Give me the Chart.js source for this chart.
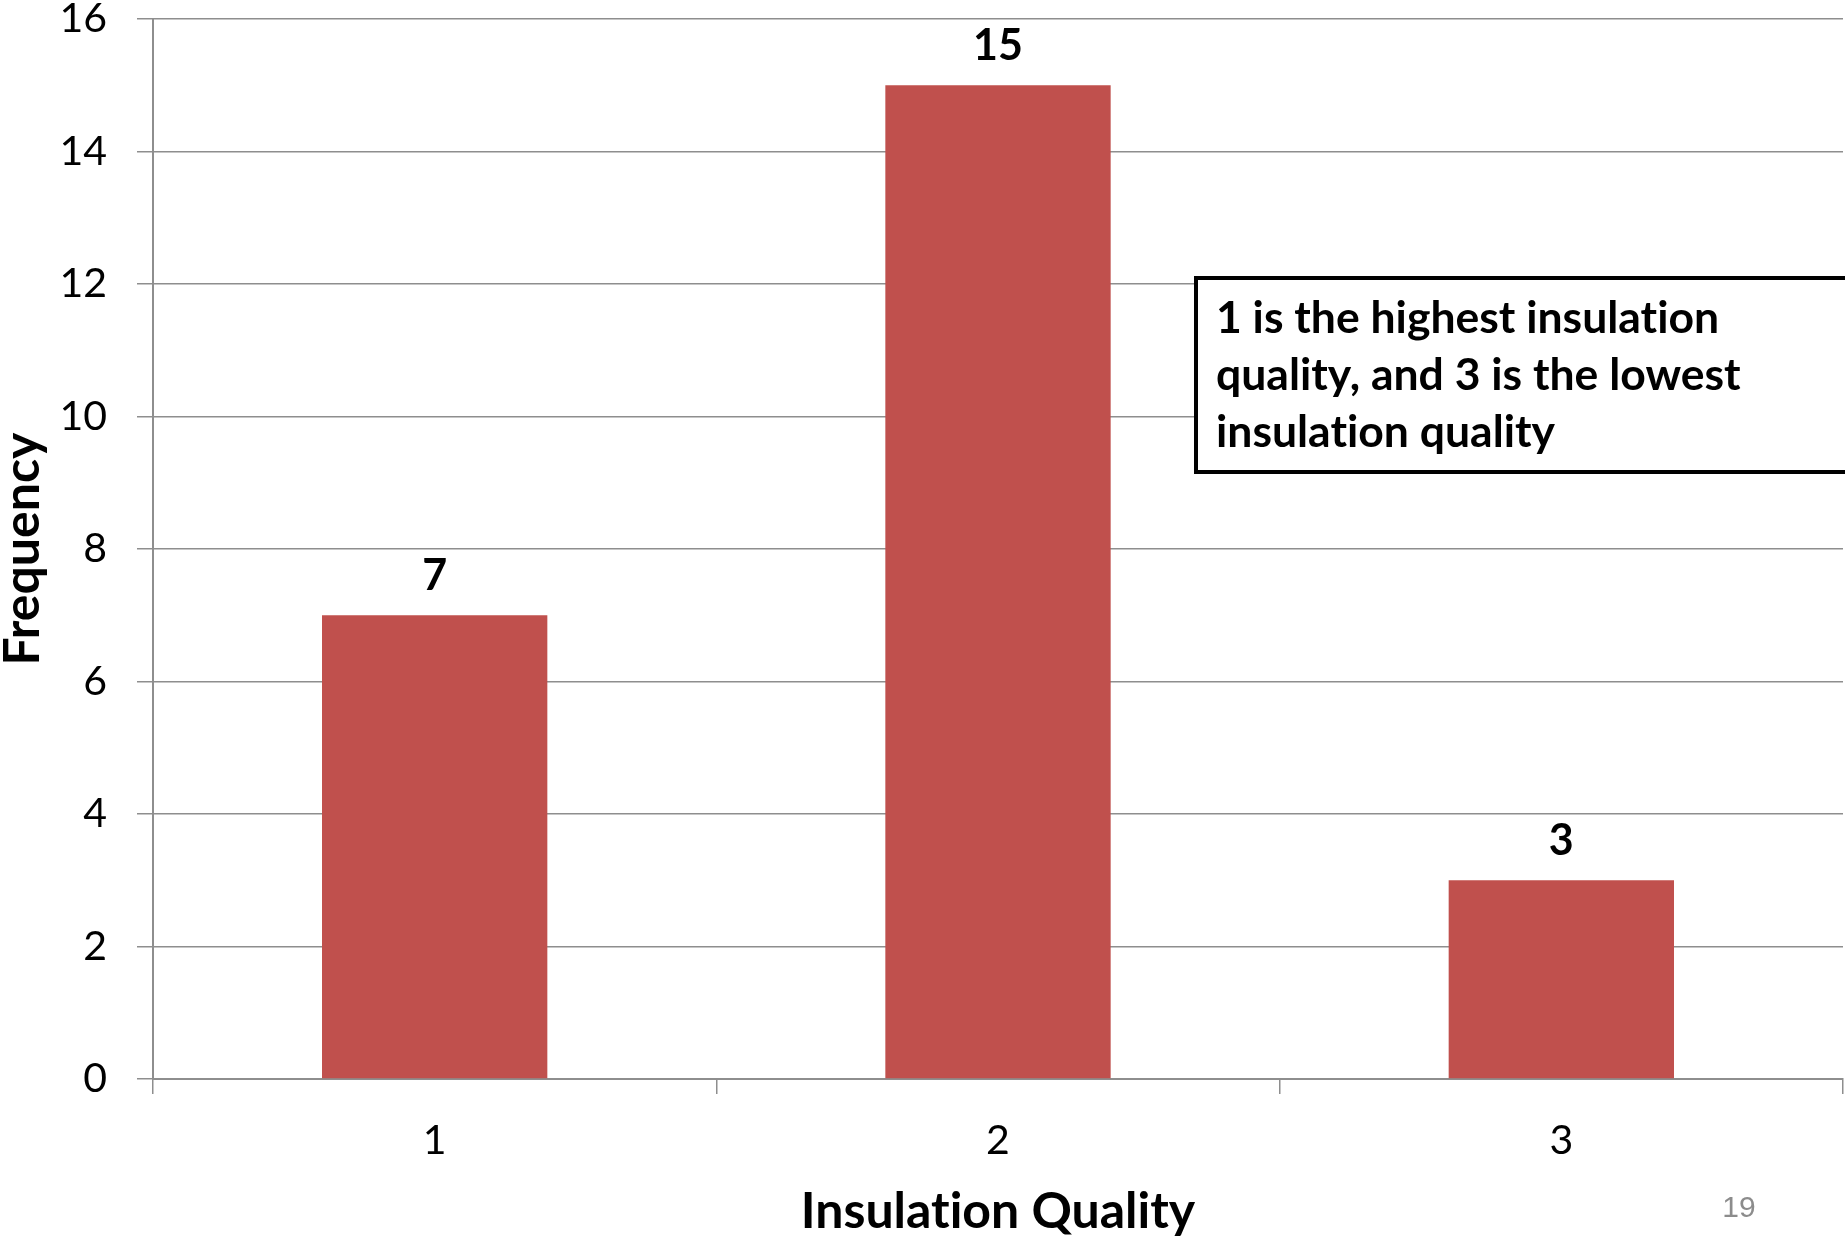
<!DOCTYPE html>
<html>
<head>
<meta charset="utf-8">
<script src="https://cdn.jsdelivr.net/npm/chart.js@4.4.1/dist/chart.umd.min.js"></script>
<style>
  html, body { margin: 0; padding: 0; background: #ffffff; }
  #wrap { position: relative; width: 1845px; height: 1239px; }
</style>
</head>
<body>
<div id="wrap"><canvas id="chart"></canvas></div>
<script>
// chart data
const categories = ['1', '2', '3'];
const frequencies = [7, 15, 3];
const yTicks = [0, 2, 4, 6, 8, 10, 12, 14, 16];
const noteLines = [
  '1 is the highest insulation',
  'quality, and 3 is the lowest',
  'insulation quality',
];
const pageNumber = '19';

const BAR_RED = '#C0504D';
const GRID_GRAY = '#8e8e8e';
const FONT = 'Lato, "Open Sans", sans-serif';

// no "ti" ligatures from Lato
const noLigatures = {
  id: 'noLigatures',
  beforeDraw(chart) {
    chart.ctx.textRendering = 'optimizeSpeed';
  },
};

// value labels above each bar (bold, like Excel data labels)
const valueLabels = {
  id: 'valueLabels',
  afterDatasetsDraw(chart) {
    const ctx = chart.ctx;
    const meta = chart.getDatasetMeta(0);
    ctx.save();
    ctx.fillStyle = '#000';
    ctx.font = 'bold 43px ' + FONT;
    ctx.textAlign = 'center';
    ctx.textBaseline = 'alphabetic';
    meta.data.forEach((bar, i) => {
      ctx.fillText(String(frequencies[i]), bar.x, bar.y - 25);
    });
    ctx.restore();
  },
};

// the text box on the right and the slide number
const noteBox = {
  id: 'noteBox',
  afterDraw(chart) {
    const ctx = chart.ctx;
    const left = 1196, top = 278, bottom = 472;
    ctx.save();
    ctx.fillStyle = '#fff';
    ctx.fillRect(left, top, chart.width - left + 10, bottom - top);
    ctx.strokeStyle = '#000';
    ctx.lineWidth = 4;
    ctx.strokeRect(left, top, chart.width - left + 10, bottom - top);

    ctx.fillStyle = '#000';
    ctx.font = 'bold 44.5px ' + FONT;
    ctx.textAlign = 'left';
    ctx.textBaseline = 'alphabetic';
    noteLines.forEach((line, i) => {
      ctx.fillText(line, 1216, 333 + i * 57);
    });

    ctx.fillStyle = '#8c8c8c';
    ctx.font = '30px "Liberation Sans", Arial, sans-serif';
    ctx.textAlign = 'center';
    ctx.textBaseline = 'middle';
    ctx.fillText(pageNumber, 1739, 1209);
    ctx.restore();
  },
};

new Chart(document.getElementById('chart'), {
  type: 'bar',
  data: {
    labels: categories,
    datasets: [{
      data: frequencies,
      backgroundColor: BAR_RED,
      borderWidth: 0,
      categoryPercentage: 0.4,
      barPercentage: 1.0,
    }],
  },
  options: {
    responsive: true,
    maintainAspectRatio: false,
    animation: false,
    layout: { padding: { top: 19, right: 2, left: 0, bottom: 0 } },
    plugins: {
      legend: { display: false },
      tooltip: { enabled: false },
    },
    scales: {
      x: {
        offset: true,
        grid: {
          offset: true,
          drawOnChartArea: false,
          drawTicks: true,
          tickLength: 15,
          color: GRID_GRAY,
          lineWidth: 1.5,
        },
        border: { color: GRID_GRAY, width: 2 },
        ticks: {
          color: '#000',
          font: { family: FONT, size: 41 },
          padding: 22,
        },
        title: {
          display: true,
          text: 'Insulation Quality',
          color: '#000',
          font: { family: FONT, size: 50, weight: 'bold', lineHeight: 1.1 },
          padding: { top: 0, bottom: 0 },
        },
        afterFit(scale) {
          scale.height = 160;
          scale.paddingLeft = 0;
          scale.paddingRight = 0;
        },
      },
      y: {
        min: 0,
        max: 16,
        afterBuildTicks(scale) { scale.ticks = yTicks.map((v) => ({ value: v })); },
        grid: {
          color: GRID_GRAY,
          lineWidth: 1.5,
          tickLength: 16,
        },
        border: { color: GRID_GRAY, width: 2 },
        ticks: {
          color: '#000',
          font: { family: FONT, size: 41 },
          padding: 30,
        },
        title: {
          display: true,
          text: 'Frequency',
          color: '#000',
          font: { family: FONT, size: 50, weight: 'bold', lineHeight: 0.9 },
          padding: { top: 0, bottom: 0 },
        },
        afterFit(scale) {
          scale.width = 153;
          scale.paddingTop = 0;
          scale.paddingBottom = 0;
        },
      },
    },
  },
  plugins: [noLigatures, valueLabels, noteBox],
});
</script>
</body>
</html>
